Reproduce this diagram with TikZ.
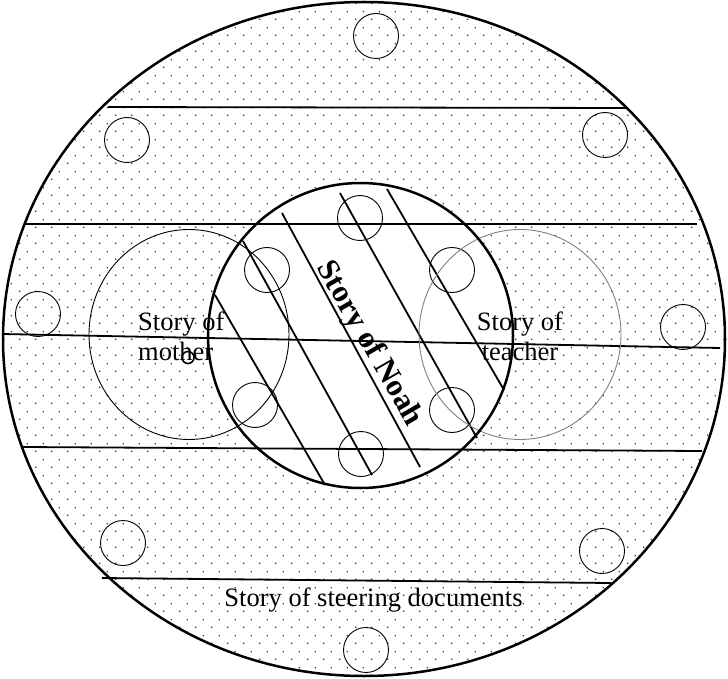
\documentclass[tikz,border=0pt]{standalone}
\usepackage{fontspec}
\setmainfont{Liberation Serif}
\usepackage{tikz}
\usetikzlibrary{patterns.meta}

\tikzdeclarepattern{
  name=ringdots,
  type=uncolored,
  bounding box={(0pt,0pt) and (16pt,16pt)},
  tile size={(16pt,16pt)},
  code={
    \pgfpathcircle{\pgfpoint{4pt}{4pt}}{0.9pt}
    \pgfpathcircle{\pgfpoint{12pt}{12pt}}{0.9pt}
    \pgfusepath{fill}
  }
}

\tikzset{
  rimline/.style={line width=2.5pt},
  bandline/.style={line width=1.8pt},
  hatchline/.style={line width=1.8pt},
  spot/.style={line width=0.9pt},
  storylabel/.style={font=\fontsize{26.5}{30}\selectfont, inner sep=0pt},
  noahlabel/.style={font=\fontsize{31}{34}\selectfont\bfseries, inner sep=0pt},
}

\begin{document}
\begin{tikzpicture}[x=1pt, y=-1pt]
  \useasboundingbox (0,0) rectangle (728,679);

  % --- centres ---
  \coordinate (rimc) at (364,339);
  \coordinate (noahc) at (360.5,335.5);
  \coordinate (motherc) at (189,334.5);
  \coordinate (teacherc) at (520,334.5);

  % --- dotted ring, white core ---
  \fill[pattern=ringdots, pattern color=black!80] (rimc) ellipse[x radius=361pt, y radius=337pt];
  \fill[white] (noahc) circle[radius=152.5pt];

  % --- horizontal bands ---
  \draw[bandline] (108,107) -- (627,108);
  \draw[bandline] (25,224) -- (697,224);
  \draw[bandline] (2,334) -- (720,348);
  \draw[bandline] (22,447) -- (702,451);
  \draw[bandline] (102,578) -- (611,583);

  % --- hatching in the core ---
  \draw[hatchline] (215,295) -- (325,485);
  \draw[hatchline] (243,241) -- (372,475);
  \draw[hatchline] (282,213) -- (420,467);
  \draw[hatchline] (340,193) -- (477,438);
  \draw[hatchline] (387,189) -- (504,390);

  % --- small circles ---
  \foreach \x/\y in {127/140, 376/36, 605/135, 38/314, 683/327, 123/543, 602/551, 366/650,
                     360/218, 267/270, 452/270, 255/405, 452/410, 361/454}
    \draw[spot] (\x,\y) circle[radius=22.5pt];

  % --- mother and teacher circles ---
  \draw[spot] (motherc) ellipse[x radius=100pt, y radius=105pt];
  \draw[spot, gray] (teacherc) ellipse[x radius=101pt, y radius=105pt];
  \draw[line width=1.6pt] (188,357.5) circle[radius=6pt];

  % --- rims ---
  \draw[rimline] (rimc) ellipse[x radius=361pt, y radius=337pt];
  \draw[rimline] (noahc) circle[radius=152.5pt];

  % --- labels ---
  \node[storylabel, anchor=base west, align=left] (mother) at (138,360) {Story of\\mother};
  \node[storylabel, anchor=base, align=center] (teacher) at (520,360) {Story of\\teacher};
  \node[storylabel, anchor=base] (steering) at (373.5,606) {Story of steering documents};
  \node[noahlabel, rotate=-60] (noah) at (369,344) {Story of Noah};

\end{tikzpicture}
\end{document}
